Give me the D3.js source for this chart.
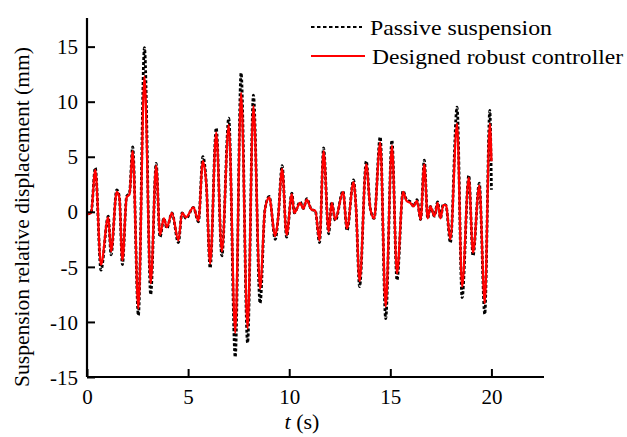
<!DOCTYPE html>
<html>
<head>
<meta charset="utf-8">
<script src="https://cdn.jsdelivr.net/npm/d3@7/dist/d3.min.js"></script>
<style>
  html, body { margin: 0; padding: 0; background: #fff; }
  svg { display: block; font-family: "Liberation Serif", "Times New Roman", serif; }
</style>
</head>
<body>
<svg id="chart" width="627" height="437"></svg>
<script>
// Time instants (s) of the response turning points
const time = [
  0.00, 0.20, 0.41, 0.69, 1.05, 1.19, 1.47, 1.60, 1.75, 1.96, 2.10, 2.26, 2.54, 2.84, 3.15, 3.42,
  3.61, 3.80, 3.95, 4.20, 4.52, 4.70, 4.90, 5.26, 5.51, 5.73, 5.90, 6.09, 6.39, 6.67, 7.01, 7.33,
  7.62, 7.94, 8.23, 8.56, 8.80, 9.01, 9.31, 9.45, 9.65, 9.87, 10.13, 10.25, 10.54, 10.70, 10.87, 11.10,
  11.29, 11.50, 11.70, 11.95, 12.10, 12.28, 12.66, 12.86, 13.18, 13.30, 13.48, 13.81, 14.01, 14.20,
  14.50, 14.77, 15.08, 15.33, 15.63, 15.80, 16.00, 16.15, 16.32, 16.50, 16.68, 16.85, 16.98, 17.18,
  17.34, 17.48, 17.62, 17.75, 17.97, 18.30, 18.55, 18.88, 19.09, 19.40, 19.67, 19.92, 20.00
];

// Passive suspension relative displacement (mm)
const passive = [
  -0.2, -0.1, 4.0, -5.3, -0.4, -3.9, 2.0, 1.4, -4.8, 1.4, 1.7, 5.9, -9.4, 14.9, -7.5, 4.4,
  -2.3, -0.6, -1.5, -0.1, -2.8, -0.1, -0.6, 0.4, -0.9, 5.0, 2.6, -5.1, 7.6, -4.0, 8.5, -13.2,
  12.6, -11.9, 10.6, -8.3, 0.2, 1.4, -2.5, -0.6, 4.2, -2.3, 1.7, -0.1, 0.9, 0.3, 1.2, 0.2,
  0.1, -2.8, 5.8, -2.0, 0.9, -0.8, 1.9, -1.7, 2.9, 0.5, -6.8, 4.6, 0.3, -0.6,
  6.8, -9.7, 6.5, -6.2, 1.9, 1.1, 0.9, 0.5, 1.1, -0.7, 4.7, -0.6, 0.5, -0.4,
  0.9, -0.6, 0.7, 0.6, -2.8, 9.5, -7.8, 3.3, -4.0, 2.6, -9.3, 9.2, 2.0
];

// Designed robust controller relative displacement (mm)
const robust = [
  -0.2, -0.1, 3.8, -4.8, -0.5, -3.6, 1.8, 1.3, -4.4, 1.3, 1.6, 5.5, -8.8, 12.3, -6.5, 4.2,
  -2.1, -0.6, -1.4, -0.1, -2.6, -0.1, -0.5, 0.4, -0.8, 4.6, 2.5, -4.7, 7.2, -3.6, 7.9, -11.0,
  10.8, -10.6, 9.6, -7.0, 0.2, 1.3, -2.2, -0.6, 3.9, -2.1, 1.6, -0.1, 0.8, 0.3, 1.1, 0.2,
  0.1, -2.6, 5.5, -1.8, 0.8, -0.7, 1.8, -1.5, 2.7, 0.5, -6.3, 4.3, 0.3, -0.6,
  6.3, -8.6, 6.0, -5.6, 1.8, 1.0, 0.8, 0.5, 1.0, -0.7, 4.3, -0.6, 0.5, -0.4,
  0.8, -0.6, 0.6, 0.6, -2.5, 8.0, -6.8, 3.1, -3.7, 2.4, -8.3, 8.0, 4.6
];

const xTicks = [0, 5, 10, 15, 20];
const yTicks = [-15, -10, -5, 0, 5, 10, 15];
const seriesNames = ["Passive suspension", "Designed robust controller"];

const svg = d3.select("#chart");
const serif = '"Liberation Serif", "Times New Roman", serif';

// Plot frame: left axis at x=87, bottom axis at y=377
const x = d3.scaleLinear().domain([0, 22.6]).range([87, 544]);
const y = d3.scaleLinear().domain([-15, 17.6]).range([377, 18]);

const line = d => d3.line()
  .x((v, i) => x(time[i]))
  .y(v => y(v))
  .curve(d3.curveMonotoneX)(d);

// Passive response: black dashed
svg.append("path")
  .attr("d", line(passive))
  .attr("fill", "none")
  .attr("stroke", "#000")
  .attr("stroke-width", 2.8)
  .attr("stroke-dasharray", "3,2");

// Controlled response: red solid
svg.append("path")
  .attr("d", line(robust))
  .attr("fill", "none")
  .attr("stroke", "#f00")
  .attr("stroke-width", 2.3);

// Axes with inward ticks; plain hyphen for negative labels
const fmt = d => String(d);
const xAxis = d3.axisBottom(x).tickValues(xTicks).tickSize(-8).tickPadding(12).tickFormat(fmt);
const yAxis = d3.axisLeft(y).tickValues(yTicks).tickSize(-8).tickPadding(9).tickFormat(fmt);

const gx = svg.append("g").attr("transform", "translate(0,377)").call(xAxis);
const gy = svg.append("g").attr("transform", "translate(87,0)").call(yAxis);

[gx, gy].forEach(g => {
  g.select(".domain").attr("stroke", "#000").attr("stroke-width", 2.2);
  g.selectAll(".tick line").attr("stroke", "#000").attr("stroke-width", 2);
  g.selectAll(".tick text")
    .attr("fill", "#000")
    .style("font-family", serif)
    .style("font-size", "21px");
});
// Axis spines without end caps
gx.select(".domain").attr("d", `M${x.range()[0]},0H${x.range()[1]}`);
gy.select(".domain").attr("d", `M0,${y.range()[0]}V${y.range()[1]}`);
gx.selectAll(".tick text").attr("dy", "0.71em");
gy.selectAll(".tick text").attr("dy", "0.34em");

// Axis titles
svg.append("text")
  .attr("x", 302).attr("y", 429)
  .attr("text-anchor", "middle")
  .style("font-size", "22px")
  .html('<tspan font-style="italic">t</tspan> (s)');

svg.append("text")
  .attr("transform", "translate(29,217) rotate(-90)")
  .attr("text-anchor", "middle")
  .style("font-size", "21.5px")
  .text("Suspension relative displacement (mm)");

// Legend
const legend = svg.append("g");
legend.append("line")
  .attr("x1", 311).attr("x2", 362).attr("y1", 27).attr("y2", 27)
  .attr("stroke", "#000").attr("stroke-width", 2).attr("stroke-dasharray", "3.5,2.5");
legend.append("line")
  .attr("x1", 311).attr("x2", 365).attr("y1", 56).attr("y2", 56)
  .attr("stroke", "#f00").attr("stroke-width", 2);
legend.append("text").attr("x", 370).attr("y", 35).style("font-size", "21px")
  .attr("textLength", 182).attr("lengthAdjust", "spacingAndGlyphs").text(seriesNames[0]);
legend.append("text").attr("x", 372).attr("y", 64).style("font-size", "21px")
  .attr("textLength", 251).attr("lengthAdjust", "spacingAndGlyphs").text(seriesNames[1]);
</script>
</body>
</html>
